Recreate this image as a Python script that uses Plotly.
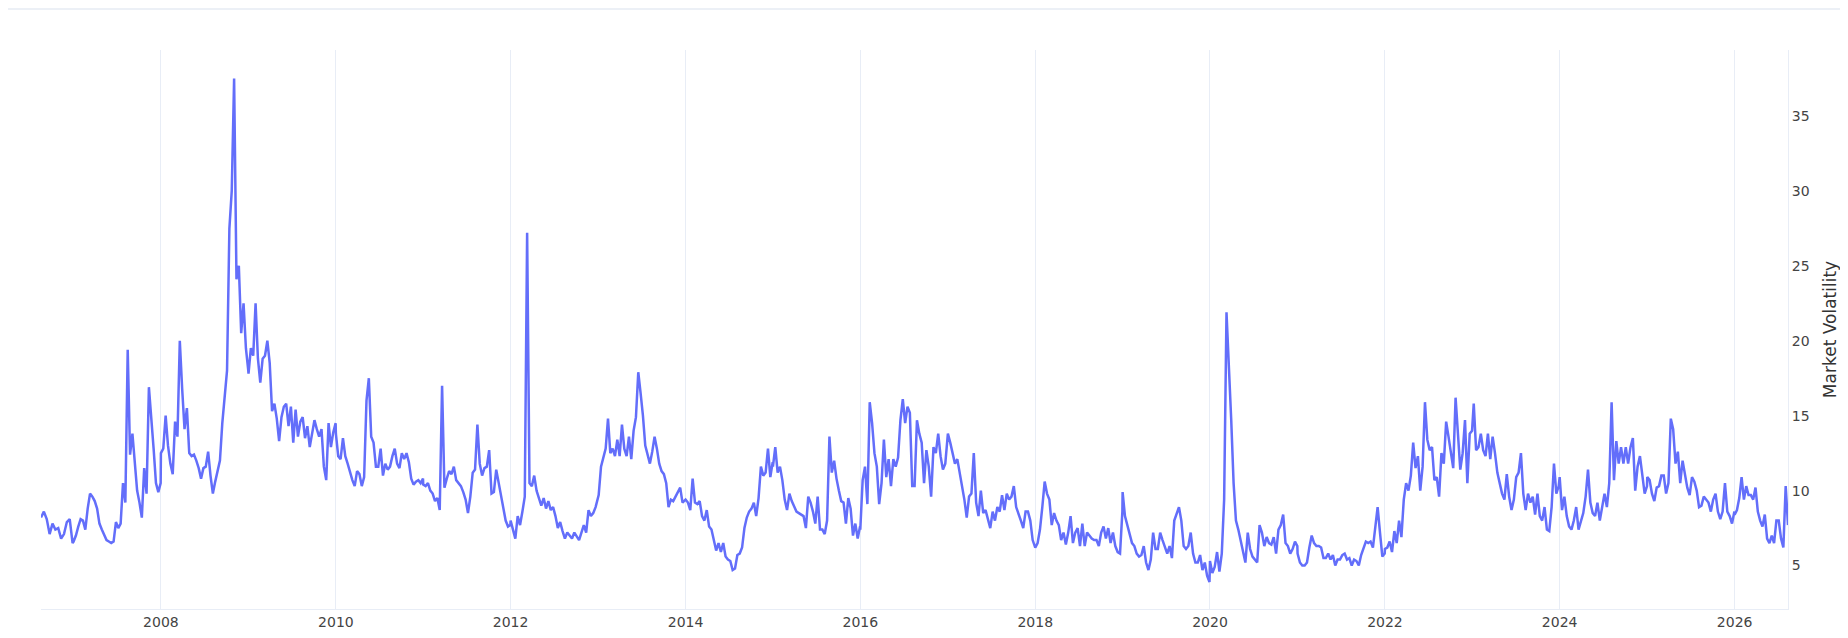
import pandas as pd
import plotly.graph_objects as go

# volatility readings, roughly every 10 days, one list per calendar year
vol_2006 = [8.2, 8.6, 8.1, 7.1, 7.8, 7.4, 7.5, 6.8, 7.1, 7.9, 8.1, 6.5]
vol_2007 = [6.6, 7.0, 7.6, 8.1, 8.0, 7.4, 8.8, 9.8, 9.6, 9.3, 8.8, 7.8, 7.4, 7.0, 6.7, 6.6, 6.5, 6.6, 7.9,
            7.5, 7.8, 10.5, 9.2, 19.4, 12.4, 13.8, 12.0, 10.0, 9.2, 8.2, 11.5, 9.8, 16.9, 14.5, 12.8, 10.5, 9.9, 10.5]
vol_2008 = [12.5, 12.8, 15.0, 13.0, 11.8, 11.1, 14.6, 13.6, 20.0, 16.8, 14.1, 15.5, 12.5, 12.3, 12.4, 12.0, 11.5,
            10.8, 11.5, 11.6, 12.6, 11.0, 9.8, 10.6, 11.3, 12.0, 14.5, 16.5, 18.0, 27.5, 30.0, 37.5, 24.1, 25.0,
            20.5, 22.5, 19.5, 18.0]
vol_2009 = [17.8, 19.5, 19.0, 22.5, 18.8, 17.2, 18.8, 19.0, 20.0, 18.5, 15.3, 15.8, 14.8, 13.3, 14.9, 15.6, 15.8,
            14.3, 15.6, 13.2, 15.4, 13.6, 14.6, 14.9, 13.5, 14.3, 12.9, 13.8, 14.7, 14.1, 13.6, 14.1, 11.6, 10.7,
            14.5, 12.9, 13.9, 14.5]
vol_2010 = [13.8, 12.3, 12.1, 13.5, 12.3, 11.8, 11.2, 10.7, 10.3, 11.3, 11.1, 10.3, 10.9, 16.0, 17.5, 13.6, 13.2,
            11.6, 11.6, 12.8, 11.0, 11.8, 11.4, 11.6, 12.3, 12.8, 11.8, 11.5, 12.5, 12.1, 12.5, 11.9, 10.8, 10.4,
            10.6, 10.7, 10.5, 10.8]
vol_2011 = [10.4, 10.3, 10.5, 10.0, 9.8, 9.3, 9.5, 8.7, 17.0, 10.2, 10.8, 11.3, 11.1, 11.6, 10.7, 10.5, 10.3, 9.9,
            9.4, 8.5, 9.6, 11.2, 11.4, 14.4, 11.8, 11.0, 11.5, 11.6, 12.7, 9.8, 9.9, 11.4, 10.6, 9.6, 9.0, 8.0,
            7.6, 7.7]
vol_2012 = [8.0, 7.3, 6.8, 8.3, 7.7, 8.6, 9.6, 27.2, 10.5, 10.3, 11.0, 10.0, 9.5, 9.0, 9.5, 8.8, 9.3, 8.7, 8.9,
            8.3, 7.5, 7.9, 7.3, 6.8, 7.2, 7.0, 6.8, 7.2, 6.9, 6.7, 7.2, 7.7, 7.2, 8.7, 8.3, 8.5, 8.9, 9.6]
vol_2013 = [9.7, 11.6, 12.2, 12.8, 14.8, 12.5, 12.8, 12.3, 13.4, 12.3, 14.4, 12.8, 12.3, 13.6, 12.1, 14.0, 14.9,
            17.9, 16.5, 15.0, 13.0, 12.3, 11.8, 12.6, 13.6, 12.8, 11.8, 11.3, 11.1, 10.5, 8.9, 9.4, 9.3, 9.6, 9.9,
            10.2, 9.2, 9.4]
vol_2014 = [9.4, 9.2, 8.7, 10.8, 9.2, 9.1, 9.3, 8.3, 8.0, 8.7, 7.6, 7.4, 6.7, 6.0, 6.5, 5.9, 6.5, 5.6, 5.4, 5.3,
            4.7, 4.8, 5.7, 5.8, 6.2, 7.5, 8.2, 8.6, 8.8, 9.2, 8.3, 9.5, 11.6, 11.0, 11.2, 12.8, 10.9, 11.9]
vol_2015 = [11.6, 12.9, 11.2, 11.6, 10.7, 9.4, 8.7, 9.8, 9.3, 8.9, 8.6, 8.5, 8.4, 8.3, 7.5, 9.6, 9.2, 8.6, 7.8,
            9.6, 7.4, 7.4, 7.1, 8.0, 13.6, 11.2, 12.0, 10.8, 10.0, 9.3, 9.2, 7.8, 9.5, 8.8, 7.0, 7.8, 6.8, 7.6]
vol_2016 = [7.4, 10.7, 11.6, 9.1, 15.9, 14.5, 12.5, 11.6, 9.1, 10.5, 13.4, 10.9, 12.1, 10.3, 12.1, 11.6, 12.2,
            14.7, 16.1, 14.5, 15.6, 15.2, 10.3, 10.3, 14.7, 13.8, 13.2, 10.5, 12.7, 11.6, 9.6, 12.9, 12.5, 13.8,
            12.3, 11.4, 11.8, 13.5]
vol_2017 = [13.8, 13.2, 12.5, 11.8, 12.1, 11.2, 10.3, 9.4, 8.2, 9.6, 9.8, 12.5, 9.2, 8.3, 10.0, 8.5, 8.7, 8.0,
            7.5, 8.6, 8.0, 8.9, 8.6, 9.7, 8.7, 9.8, 9.4, 9.6, 10.3, 8.9, 8.5, 8.0, 7.5, 8.6, 8.6, 8.0, 6.7, 6.2]
vol_2018 = [6.2, 6.5, 7.4, 8.9, 10.6, 9.8, 9.4, 7.7, 8.5, 8.0, 7.7, 6.7, 7.2, 6.4, 7.2, 8.3, 6.5, 7.2, 7.5, 6.3,
            7.8, 6.3, 7.2, 7.0, 6.8, 6.7, 6.7, 6.3, 7.2, 7.6, 6.8, 7.5, 6.5, 7.2, 6.3, 5.9, 5.8, 8.6]
vol_2019 = [9.9, 8.3, 7.7, 7.0, 6.5, 6.3, 5.8, 5.6, 5.7, 6.3, 5.2, 4.7, 5.4, 7.2, 6.1, 6.1, 7.2, 6.7, 6.3, 5.8,
            6.3, 5.5, 8.0, 8.5, 8.9, 8.0, 6.3, 6.1, 6.3, 7.2, 5.8, 5.2, 5.2, 5.7, 4.7, 5.2, 4.3, 3.9]
vol_2020 = [5.3, 4.5, 4.9, 5.9, 4.6, 5.8, 9.4, 21.9, 18.5, 14.7, 10.5, 8.0, 7.4, 6.7, 5.8, 5.2, 7.2, 6.1, 5.6,
            5.4, 5.2, 7.7, 7.2, 6.3, 6.9, 6.5, 6.4, 6.9, 5.8, 7.4, 7.7, 8.4, 6.5, 6.3, 5.8, 6.1, 6.6, 6.3]
vol_2021 = [5.8, 5.2, 5.0, 5.0, 5.2, 6.2, 7.0, 6.5, 6.3, 6.3, 6.2, 5.5, 5.5, 5.8, 5.4, 5.7, 5.0, 5.4, 5.4, 5.7,
            5.8, 5.4, 5.5, 5.0, 5.4, 5.3, 5.0, 5.7, 6.1, 6.6, 6.5, 6.6, 6.2, 7.4, 8.9, 7.2, 5.6, 5.8]
vol_2022 = [6.1, 6.2, 6.6, 5.9, 7.3, 6.5, 8.0, 6.9, 9.4, 10.5, 10.0, 11.0, 13.2, 11.5, 12.3, 10.0, 11.6, 15.9,
            13.4, 12.7, 12.9, 10.7, 10.9, 9.6, 12.5, 11.8, 14.6, 13.6, 12.5, 11.5, 16.2, 13.4, 11.4, 12.5, 14.7,
            10.5, 13.8, 14.0]
vol_2023 = [15.8, 12.7, 12.9, 13.8, 12.7, 12.3, 13.8, 12.1, 13.6, 12.5, 11.2, 10.5, 9.8, 9.4, 11.1, 9.6, 8.7,
            9.4, 10.9, 11.2, 12.5, 9.8, 8.7, 9.8, 9.2, 9.6, 8.4, 9.8, 8.3, 8.0, 8.9, 7.4, 7.3, 8.9, 11.8, 9.8, 10.3]
vol_2024 = [10.9, 8.7, 9.6, 8.3, 7.6, 7.4, 8.0, 8.9, 7.4, 8.0, 8.5, 9.6, 11.4, 9.2, 8.5, 8.3, 9.2, 8.0, 8.9,
            9.8, 8.9, 10.5, 15.9, 10.7, 13.3, 11.8, 12.9, 11.8, 12.9, 11.8, 12.9, 13.5, 10.0, 11.6, 12.3, 10.9,
            9.8, 10.3]
vol_2025 = [10.9, 10.7, 9.8, 9.3, 10.2, 10.3, 11.0, 11.0, 9.8, 10.5, 14.8, 14.1, 11.8, 12.6, 10.5, 12.0, 11.0,
            10.2, 9.7, 10.9, 10.6, 10.0, 8.9, 9.0, 9.6, 9.4, 9.2, 8.6, 9.4, 9.8, 8.6, 8.1, 8.6, 10.5, 8.6, 8.3,
            7.8, 8.6]
vol_2026 = [8.4, 8.7, 9.5, 10.9, 9.4, 10.3, 9.7, 9.7, 9.4, 10.2, 8.6, 8.0, 7.6, 8.4, 6.8, 6.5, 7.0, 6.5, 8.0,
            8.0, 6.8, 6.2, 10.3, 7.7]

# first and last reading dates of each year list
periods = [
    ("2006-08-18", "2006-12-28", vol_2006),
    ("2007-01-01", "2007-12-31", vol_2007),
    ("2008-01-01", "2008-12-31", vol_2008),
    ("2009-01-01", "2009-12-31", vol_2009),
    ("2010-01-01", "2010-12-31", vol_2010),
    ("2011-01-01", "2011-12-31", vol_2011),
    ("2012-01-01", "2012-12-31", vol_2012),
    ("2013-01-03", "2013-12-29", vol_2013),
    ("2014-01-01", "2014-12-31", vol_2014),
    ("2015-01-01", "2015-12-31", vol_2015),
    ("2016-01-01", "2016-12-31", vol_2016),
    ("2017-01-01", "2017-12-31", vol_2017),
    ("2018-01-01", "2018-12-31", vol_2018),
    ("2019-01-01", "2019-12-30", vol_2019),
    ("2020-01-01", "2020-12-31", vol_2020),
    ("2021-01-01", "2021-12-31", vol_2021),
    ("2022-01-01", "2022-12-31", vol_2022),
    ("2023-01-07", "2023-12-28", vol_2023),
    ("2024-01-01", "2024-12-31", vol_2024),
    ("2025-01-01", "2025-12-31", vol_2025),
    ("2026-01-01", "2026-08-12", vol_2026),
]

dates = []
values = []
for start, end, vals in periods:
    dates += list(pd.date_range(start, end, periods=len(vals)))
    values += vals

fig = go.Figure(go.Scatter(x=dates, y=values, mode="lines",
                           line=dict(color="#636efa", width=2.5)))

grid = "#E8EDF6"
fig.update_layout(
    template="plotly_white",
    width=1832, height=622,
    showlegend=False,
    margin=dict(l=33, r=52, t=42, b=21),
    font=dict(family="Verdana, DejaVu Sans, sans-serif", size=14, color="#444"),
    xaxis=dict(showgrid=True, gridcolor=grid, showline=True, linecolor=grid, automargin=False,
               dtick="M24", tick0="2008-01-01", tickformat="%Y",
               tickfont=dict(size=14, color="#444")),
    yaxis=dict(side="right", showgrid=False, showline=True, linecolor=grid, zeroline=False,
               automargin=False,
               title=dict(text="Market Volatility", font=dict(size=17, color="#333")),
               range=[2.1, 39.4], dtick=5, tick0=5,
               tickfont=dict(size=14, color="#444")),
)
# thin separator above the chart
fig.add_shape(type="line", xref="paper", yref="paper", x0=-0.03, x1=1.04, y0=1.0735, y1=1.0735,
              line=dict(color="#e6ebf3", width=1.5))

fig.write_html("out.html")
